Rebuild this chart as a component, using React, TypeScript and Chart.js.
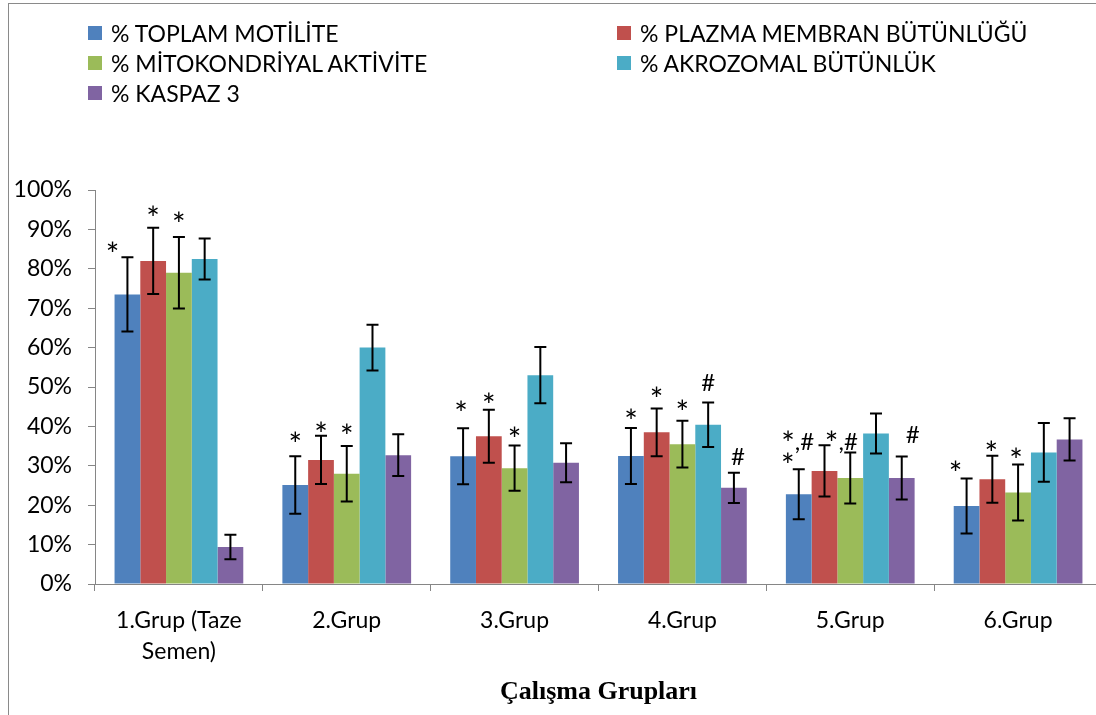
import React, { useEffect, useRef } from "react";
import { Chart, registerables } from "chart.js";

Chart.register(...registerables);

const categories: (string | string[])[] = [
  ["1.Grup (Taze", "Semen)"],
  "2.Grup",
  "3.Grup",
  "4.Grup",
  "5.Grup",
  "6.Grup",
];

const seriesLabels = [
  "% TOPLAM MOTİLİTE",
  "% PLAZMA MEMBRAN BÜTÜNLÜĞÜ",
  "% MİTOKONDRİYAL AKTİVİTE",
  "% AKROZOMAL BÜTÜNLÜK",
  "% KASPAZ 3",
];
const seriesColors = ["#4F81BD", "#C0504D", "#9BBB59", "#4BACC6", "#8064A2"];

const toplamMotilite = [73.5, 25.1, 32.4, 32.5, 22.8, 19.8];
const toplamMotiliteErr = [9.4, 7.3, 7.1, 7.1, 6.35, 7.0];
const plazmaMembran = [82.0, 31.5, 37.5, 38.5, 28.7, 26.6];
const plazmaMembranErr = [8.4, 6.1, 6.7, 6.05, 6.5, 5.95];
const mitokondriyal = [79.0, 28.0, 29.4, 35.5, 26.9, 23.2];
const mitokondriyalErr = [9.1, 7.05, 5.75, 5.95, 6.45, 7.1];
const akrozomal = [82.5, 60.0, 53.0, 40.4, 38.2, 33.4];
const akrozomalErr = [5.2, 5.8, 7.15, 5.65, 5.05, 7.45];
const kaspaz3 = [9.4, 32.7, 30.8, 24.4, 26.9, 36.7];
const kaspaz3Err = [3.1, 5.3, 4.95, 3.85, 5.45, 5.35];

const seriesValues = [toplamMotilite, plazmaMembran, mitokondriyal, akrozomal, kaspaz3];
const seriesErrors = [toplamMotiliteErr, plazmaMembranErr, mitokondriyalErr, akrozomalErr, kaspaz3Err];

const yTicks = [0, 10, 20, 30, 40, 50, 60, 70, 80, 90, 100];

// significance marks: group index, series index, text, baseline value (data units), x offset (px)
const marks: { g: number; s: number; text: string; y: number; dx: number }[] = [
  { g: 0, s: 0, text: "*", y: 81.9, dx: -15 },
  { g: 0, s: 1, text: "*", y: 91.0, dx: 0 },
  { g: 0, s: 2, text: "*", y: 89.5, dx: 0 },
  { g: 1, s: 0, text: "*", y: 33.7, dx: 0 },
  { g: 1, s: 1, text: "*", y: 36.2, dx: 0 },
  { g: 1, s: 2, text: "*", y: 35.9, dx: 0 },
  { g: 2, s: 0, text: "*", y: 41.5, dx: -2 },
  { g: 2, s: 1, text: "*", y: 43.6, dx: 0 },
  { g: 2, s: 2, text: "*", y: 34.9, dx: 0 },
  { g: 3, s: 0, text: "*", y: 39.5, dx: 0 },
  { g: 3, s: 1, text: "*", y: 45.3, dx: 0 },
  { g: 3, s: 2, text: "*", y: 42.0, dx: 0 },
  { g: 3, s: 3, text: "#", y: 49.1, dx: 0 },
  { g: 3, s: 4, text: "#", y: 30.3, dx: 4 },
  { g: 4, s: 0, text: "*", y: 28.3, dx: -11 },
  { g: 4, s: 0, text: "*,#", y: 34.0, dx: -1 },
  { g: 4, s: 1, text: "*", y: 33.9, dx: 7 },
  { g: 4, s: 2, text: ",#", y: 34.0, dx: -2 },
  { g: 4, s: 4, text: "#", y: 35.8, dx: 11 },
  { g: 5, s: 0, text: "*", y: 26.3, dx: -11 },
  { g: 5, s: 1, text: "*", y: 31.4, dx: -1 },
  { g: 5, s: 2, text: "*", y: 29.6, dx: -2 },
];

const FONT = "Lato, 'Noto Sans', sans-serif";

const errorBarPlugin = {
  id: "errorBars",
  afterDatasetsDraw(chart: any) {
    const ctx = chart.ctx;
    const yScale = chart.scales.y;
    ctx.save();
    ctx.strokeStyle = "#000";
    ctx.lineWidth = 2;
    seriesValues.forEach((vals, s) => {
      const meta = chart.getDatasetMeta(s);
      meta.data.forEach((bar: any, g: number) => {
        const v = vals[g];
        const e = seriesErrors[s][g];
        const yt = yScale.getPixelForValue(v + e);
        const yb = yScale.getPixelForValue(v - e);
        const x = bar.x;
        const cap = 6;
        ctx.beginPath();
        ctx.moveTo(x, yt);
        ctx.lineTo(x, yb);
        ctx.moveTo(x - cap, yt);
        ctx.lineTo(x + cap, yt);
        ctx.moveTo(x - cap, yb);
        ctx.lineTo(x + cap, yb);
        ctx.stroke();
      });
    });
    ctx.fillStyle = "#000";
    ctx.textAlign = "left";
    ctx.textBaseline = "alphabetic";
    const starFont = `32px ${FONT}`;
    const otherFont = `24px ${FONT}`;
    marks.forEach((m) => {
      const bar = chart.getDatasetMeta(m.s).data[m.g];
      if (!bar) return;
      const chars = Array.from(m.text);
      const widths = chars.map((c) => {
        ctx.font = c === "*" ? starFont : otherFont;
        return ctx.measureText(c).width;
      });
      const total = widths.reduce((a, b) => a + b, 0);
      let x = bar.x + m.dx - total / 2;
      const base = yScale.getPixelForValue(m.y);
      chars.forEach((c, i) => {
        ctx.font = c === "*" ? starFont : otherFont;
        ctx.fillText(c, x, c === "*" ? base + 5 : base);
        x += widths[i];
      });
    });
    ctx.restore();
  },
};

export default function App() {
  const ref = useRef<HTMLCanvasElement | null>(null);
  useEffect(() => {
    if (!ref.current) return;
    const chart = new Chart(ref.current, {
      type: "bar",
      data: {
        labels: categories,
        datasets: seriesValues.map((vals, i) => ({
          label: seriesLabels[i],
          data: vals,
          backgroundColor: seriesColors[i],
          borderWidth: 0,
          categoryPercentage: 0.767,
          barPercentage: 1.0,
        })),
      },
      options: {
        animation: false,
        responsive: false,
        maintainAspectRatio: false,
        layout: { padding: { top: 190, right: 1, left: 0, bottom: 0 } },
        plugins: {
          legend: { display: false },
          tooltip: { enabled: false },
          title: { display: false },
        },
        scales: {
          y: {
            min: 0,
            max: 100,
            afterBuildTicks: (scale: any) => {
              scale.ticks = yTicks.map((v) => ({ value: v }));
            },
            afterFit: (scale: any) => {
              scale.width = 95;
            },
            border: { color: "#868686", width: 1 },
            grid: {
              drawOnChartArea: false,
              drawTicks: true,
              tickLength: 7,
              color: "#868686",
            },
            ticks: {
              padding: 16,
              color: "#000",
              font: { family: FONT, size: 23 },
              callback: (v: any) => `${v}%`,
            },
          },
          x: {
            afterFit: (scale: any) => {
              scale.height = 131;
            },
            border: { color: "#868686", width: 1 },
            grid: {
              offset: true,
              drawOnChartArea: false,
              drawTicks: true,
              tickLength: 7,
              color: "#868686",
            },
            ticks: {
              padding: 14,
              color: "#000",
              maxRotation: 0,
              autoSkip: false,
              font: { family: FONT, size: 23, lineHeight: 31 / 23 },
            },
            title: {
              display: true,
              text: "Çalışma Grupları",
              color: "#000",
              font: { family: "'Liberation Serif', 'Times New Roman', serif", size: 26, weight: "bold", lineHeight: 1.2 },
              padding: { top: 0, bottom: 7 },
            },
          },
        },
      },
      plugins: [errorBarPlugin],
    });
    return () => chart.destroy();
  }, []);

  const legendPos = [
    { left: 88, top: 33 },
    { left: 617, top: 33 },
    { left: 88, top: 63 },
    { left: 617, top: 63 },
    { left: 88, top: 93 },
  ];

  return (
    <div
      style={{
        position: "fixed",
        left: 0,
        top: 0,
        width: 1096,
        height: 715,
        overflow: "hidden",
        background: "#fff",
      }}
    >
      <div
        style={{
          position: "absolute",
          left: 8,
          top: 3,
          width: 1100,
          height: 720,
          borderTop: "1px solid #8a8a8a",
          borderLeft: "1px solid #8a8a8a",
        }}
      />
      <div style={{ position: "absolute", left: 0, top: 0, width: 1103, height: 715 }}>
        <canvas ref={ref} width={1103} height={715} style={{ width: 1103, height: 715, display: "block" }} />
      </div>
      {seriesLabels.map((lab, i) => (
        <div
          key={lab}
          style={{
            position: "absolute",
            left: legendPos[i].left,
            top: legendPos[i].top - 15,
            height: 30,
            display: "flex",
            alignItems: "center",
            whiteSpace: "nowrap",
            fontFamily: FONT,
            fontSize: 23,
            color: "#000",
          }}
        >
          <span
            style={{
              display: "inline-block",
              width: 14,
              height: 14,
              background: seriesColors[i],
              marginRight: 9,
            }}
          />
          <span>{lab}</span>
        </div>
      ))}
    </div>
  );
}
